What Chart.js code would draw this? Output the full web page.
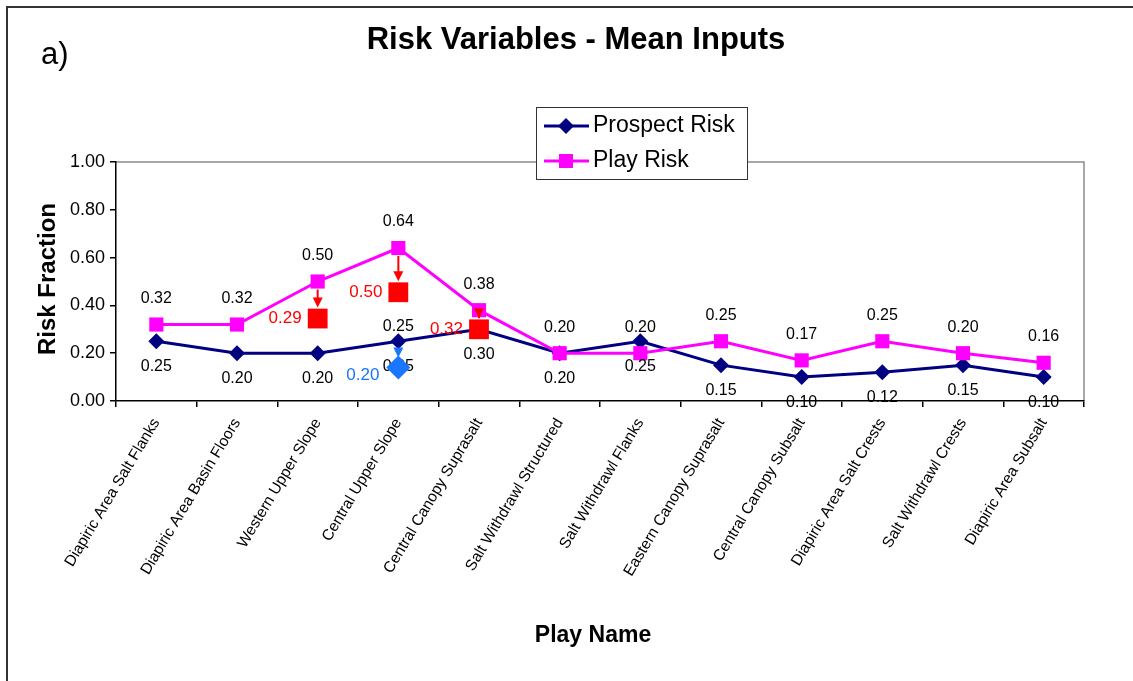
<!DOCTYPE html>
<html>
<head>
<meta charset="utf-8">
<script src="https://cdn.jsdelivr.net/npm/chart.js@4.4.0/dist/chart.umd.min.js"></script>
<style>
  html, body { margin: 0; padding: 0; background: #fff; }
  #wrap { width: 1133px; height: 681px; position: relative; }
</style>
</head>
<body>
<div id="wrap"><canvas id="chart" width="1133" height="681"></canvas></div>
<script>
const FONT = "'Liberation Sans', Arial, sans-serif";

const playNames = [
  'Diapiric Area Salt Flanks', 'Diapiric Area Basin Floors', 'Western Upper Slope',
  'Central Upper Slope', 'Central Canopy Suprasalt', 'Salt Withdrawl Structured',
  'Salt Withdrawl Flanks', 'Eastern Canopy Suprasalt', 'Central Canopy Subsalt',
  'Diapiric Area Salt Crests', 'Salt Withdrawl Crests', 'Diapiric Area Subsalt'
];
const prospectRisk = [0.25, 0.20, 0.20, 0.25, 0.30, 0.20, 0.25, 0.15, 0.10, 0.12, 0.15, 0.10];
const playRisk = [0.32, 0.32, 0.50, 0.64, 0.38, 0.20, 0.20, 0.25, 0.17, 0.25, 0.20, 0.16];
// revised values drawn as red squares / blue diamond, with their printed labels
const revisedPlay = [null, null, 0.345, 0.455, 0.30, null, null, null, null, null, null, null];
const revisedPlayText = [null, null, '0.29', '0.50', '0.32', null, null, null, null, null, null, null];
const revisedProspect = [null, null, null, 0.14, null, null, null, null, null, null, null, null];
const revisedProspectText = [null, null, null, '0.20', null, null, null, null, null, null, null, null];
const yTicks = [0, 0.2, 0.4, 0.6, 0.8, 1.0];

function arrow(ctx, x, y1, y2, color) {
  ctx.save();
  ctx.strokeStyle = color;
  ctx.fillStyle = color;
  ctx.lineWidth = 2;
  ctx.beginPath();
  ctx.moveTo(x, y1);
  ctx.lineTo(x, y2 - 8);
  ctx.stroke();
  ctx.beginPath();
  ctx.moveTo(x - 5, y2 - 10);
  ctx.lineTo(x + 5, y2 - 10);
  ctx.lineTo(x, y2);
  ctx.closePath();
  ctx.fill();
  ctx.restore();
}

const decor = {
  id: 'decor',
  beforeDraw(chart) {
    const { ctx, chartArea: a } = chart;
    ctx.save();
    ctx.fillStyle = '#fff';
    ctx.fillRect(0, 0, chart.width, chart.height);
    // outer frame
    ctx.strokeStyle = '#333';
    ctx.lineWidth = 2;
    ctx.strokeRect(7, 7, chart.width + 10, chart.height + 10);
    // plot area border (top/right)
    ctx.strokeStyle = '#8c8c8c';
    ctx.lineWidth = 1.5;
    ctx.beginPath();
    ctx.moveTo(a.left, a.top);
    ctx.lineTo(a.right, a.top);
    ctx.lineTo(a.right, a.bottom);
    ctx.stroke();
    ctx.restore();
  },
  // value labels go on after the play series, under the revised markers
  afterDatasetDraw(chart, args) {
    if (args.index !== 1) return;
    const { ctx } = chart;
    const x = chart.scales.x, y = chart.scales.y;
    ctx.save();
    ctx.font = '16px ' + FONT;
    ctx.fillStyle = '#000';
    ctx.textAlign = 'center';
    ctx.textBaseline = 'middle';
    chart.getDatasetMeta(1).data.forEach((p, i) => {
      ctx.fillText(playRisk[i].toFixed(2), p.x, p.y - 26);
    });
    chart.getDatasetMeta(0).data.forEach((p, i) => {
      ctx.fillText(prospectRisk[i].toFixed(2), p.x, p.y + 25);
    });
    // extra label printed above the Central Upper Slope prospect point
    ctx.fillText(prospectRisk[3].toFixed(2), x.getPixelForValue(3), y.getPixelForValue(prospectRisk[3]) - 15);
    ctx.restore();
  },
  afterDatasetsDraw(chart) {
    const { ctx } = chart;
    const x = chart.scales.x, y = chart.scales.y;
    // arrows to the revised values
    revisedPlay.forEach((v, i) => {
      if (v == null) return;
      const px = x.getPixelForValue(i);
      arrow(ctx, px, y.getPixelForValue(playRisk[i]) + 8, y.getPixelForValue(v) - 11, '#ff0000');
    });
    revisedProspect.forEach((v, i) => {
      if (v == null) return;
      const px = x.getPixelForValue(i);
      arrow(ctx, px, y.getPixelForValue(prospectRisk[i]) + 7, y.getPixelForValue(v) - 10, '#1a75ff');
    });
  },
  afterDraw(chart) {
    const { ctx } = chart;
    const x = chart.scales.x, y = chart.scales.y;
    ctx.save();
    // revised labels
    ctx.font = '17px ' + FONT;
    ctx.textAlign = 'right';
    ctx.textBaseline = 'middle';
    ctx.fillStyle = '#ff0000';
    revisedPlayText.forEach((t, i) => {
      if (!t) return;
      ctx.fillText(t, x.getPixelForValue(i) - 16, y.getPixelForValue(revisedPlay[i]));
    });
    ctx.fillStyle = '#1a75ff';
    revisedProspectText.forEach((t, i) => {
      if (!t) return;
      ctx.fillText(t, x.getPixelForValue(i) - 19, y.getPixelForValue(revisedProspect[i]) + 8);
    });

    // titles
    ctx.fillStyle = '#000';
    ctx.textAlign = 'center';
    ctx.font = 'bold 31px ' + FONT;
    ctx.fillText('Risk Variables - Mean Inputs', 576, 40);
    ctx.textAlign = 'left';
    ctx.font = '31px ' + FONT;
    ctx.fillText('a)', 41, 55);
    ctx.textAlign = 'center';
    ctx.font = 'bold 23px ' + FONT;
    ctx.fillText('Play Name', 593, 636);
    ctx.save();
    ctx.translate(48, 279);
    ctx.rotate(-Math.PI / 2);
    ctx.font = 'bold 24px ' + FONT;
    ctx.fillText('Risk Fraction', 0, 0);
    ctx.restore();

    // legend
    const lx = 536, ly = 107, lw = 211, lh = 72;
    ctx.fillStyle = '#fff';
    ctx.fillRect(lx, ly, lw, lh);
    ctx.strokeStyle = '#333';
    ctx.lineWidth = 1;
    ctx.strokeRect(lx + 0.5, ly + 0.5, lw, lh);
    const items = [
      { text: 'Prospect Risk', color: '#000080', shape: 'diamond', yy: ly + 19 },
      { text: 'Play Risk', color: '#ff00ff', shape: 'square', yy: ly + 54 }
    ];
    items.forEach(it => {
      ctx.strokeStyle = it.color;
      ctx.fillStyle = it.color;
      ctx.lineWidth = 3;
      ctx.beginPath();
      ctx.moveTo(lx + 8, it.yy);
      ctx.lineTo(lx + 53, it.yy);
      ctx.stroke();
      const cx = lx + 30;
      ctx.beginPath();
      if (it.shape === 'diamond') {
        ctx.moveTo(cx, it.yy - 8); ctx.lineTo(cx + 8, it.yy);
        ctx.lineTo(cx, it.yy + 8); ctx.lineTo(cx - 8, it.yy);
        ctx.closePath();
        ctx.fill();
      } else {
        ctx.fillRect(cx - 7, it.yy - 7, 14, 14);
      }
      ctx.fillStyle = '#000';
      ctx.font = '23px ' + FONT;
      ctx.textAlign = 'left';
      ctx.textBaseline = 'middle';
      ctx.fillText(it.text, lx + 57, it.yy);
    });
    ctx.restore();
  }
};

new Chart(document.getElementById('chart'), {
  type: 'line',
  data: {
    labels: playNames,
    datasets: [
      {
        label: 'Prospect Risk',
        data: prospectRisk,
        order: 3,
        borderColor: '#000080',
        backgroundColor: '#000080',
        borderWidth: 3,
        pointStyle: 'rectRot',
        pointRadius: 8,
        pointBorderWidth: 0,
        tension: 0
      },
      {
        label: 'Play Risk',
        data: playRisk,
        order: 2,
        borderColor: '#ff00ff',
        backgroundColor: '#ff00ff',
        borderWidth: 3,
        pointStyle: 'rect',
        pointRadius: 10,
        pointBorderWidth: 0,
        tension: 0
      },
      {
        label: 'Revised Play',
        data: revisedPlay,
        order: 1,
        showLine: false,
        backgroundColor: '#ff0000',
        borderColor: '#ff0000',
        pointStyle: 'rect',
        pointRadius: 14,
        pointBorderWidth: 0
      },
      {
        label: 'Revised Prospect',
        data: revisedProspect,
        order: 0,
        showLine: false,
        backgroundColor: '#1a75ff',
        borderColor: '#1a75ff',
        pointStyle: 'rectRot',
        pointRadius: 12,
        pointBorderWidth: 0
      }
    ]
  },
  options: {
    responsive: false,
    animation: false,
    layout: { padding: { left: 0, top: 162, right: 49, bottom: 0 } },
    plugins: {
      legend: { display: false },
      title: { display: false },
      tooltip: { enabled: false }
    },
    scales: {
      x: {
        offset: true,
        grid: { offset: true, drawOnChartArea: false, tickLength: 6, color: '#000', lineWidth: 1.5 },
        border: { color: '#000', width: 1.5 },
        ticks: {
          autoSkip: false,
          minRotation: 59,
          maxRotation: 59,
          color: '#000',
          padding: 8,
          font: { family: FONT, size: 15.5 }
        },
        afterFit: s => { s.height = 280; }
      },
      y: {
        min: 0,
        max: 1,
        afterBuildTicks: s => { s.ticks = yTicks.map(v => ({ value: v })); },
        grid: { drawOnChartArea: false, tickLength: 6, color: '#000', lineWidth: 1.5 },
        border: { color: '#000', width: 1.5 },
        ticks: {
          color: '#000',
          padding: 5,
          font: { family: FONT, size: 18 },
          callback: v => Number(v).toFixed(2)
        },
        afterFit: s => { s.width = 116; }
      }
    }
  },
  plugins: [decor]
});
</script>
</body>
</html>
